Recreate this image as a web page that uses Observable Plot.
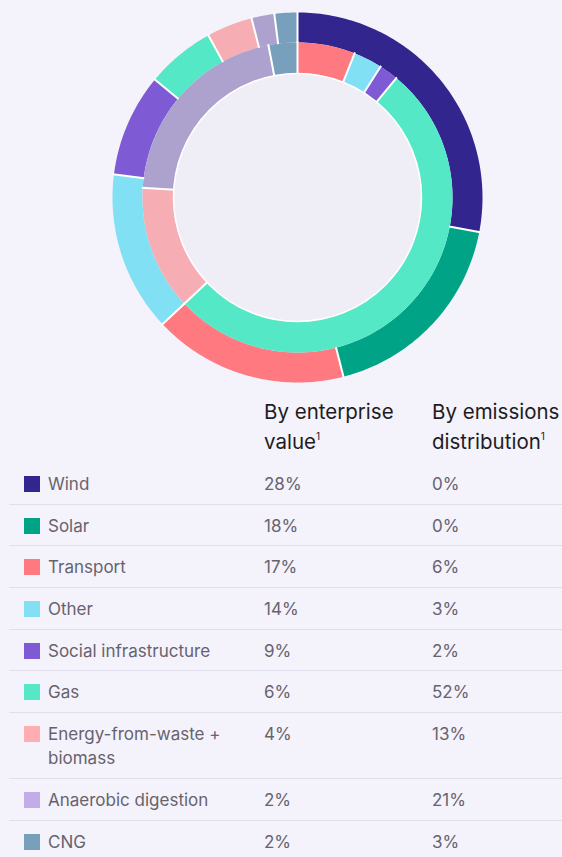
<!DOCTYPE html>
<html>
<head>
<meta charset="utf-8">
<script src="https://cdn.jsdelivr.net/npm/d3@7"></script>
<script src="https://cdn.jsdelivr.net/npm/@observablehq/plot@0.6"></script>
<style>
  html, body { margin: 0; padding: 0; background: #f4f2fb; }
  body { width: 562px; height: 857px; overflow: hidden; position: relative; font-family: "Inter", "Lato", sans-serif; }
  #chart svg { display: block; background: transparent; }
  #head { position: absolute; top: 397px; left: 0; width: 562px; height: 62px; font-size: 20.5px; line-height: 30px; color: #1d1c21; }
  #head div { position: absolute; top: 0; white-space: nowrap; }
  #head sup { font-size: 10px; vertical-align: 9px; line-height: 0; }
  table { position: absolute; top: 463px; left: 9px; width: 553px; border-collapse: collapse; font-size: 17px; line-height: 24px; color: #67636d; }
  td { padding: 9px 0 7.7px 0; vertical-align: top; border-bottom: 1px solid #e0ddec; }
  tr:last-child td { border-bottom: none; }
  td.lab { width: 255px; padding-left: 0; }
  td.lab .sw { display: inline-block; width: 16px; height: 16px; margin-left: 15px; margin-right: 8px; vertical-align: top; margin-top: 4px; }
  td.lab .tx { display: inline-block; width: 200px; vertical-align: top; }
  td.c2 { width: 168px; }
</style>
</head>
<body>
<div id="chart"></div>
<div id="head">
  <div style="left:264px">By enterprise<br>value<sup>1</sup></div>
  <div style="left:432px">By emissions<br>distribution<sup>1</sup></div>
</div>
<table id="tbl"></table>
<script>
const categories = ["Wind", "Solar", "Transport", "Other", "Social infrastructure", "Gas", "Energy-from-waste + biomass", "Anaerobic digestion", "CNG"];
const enterpriseValue = [28, 18, 17, 14, 9, 6, 4, 2, 2];
const emissionsDistribution = [0, 0, 6, 3, 2, 52, 13, 21, 3];
const ringColors = ["#33258e", "#00a386", "#ff7a80", "#81e0f4", "#7f5ad5", "#55e8c6", "#f6adb3", "#ada1cd", "#789fbb"];
const legendColors = ["#33258e", "#00a386", "#ff7a80", "#81e0f4", "#7f5ad5", "#55e8c6", "#ffadb1", "#c3ade9", "#789fbb"];

// ring geometry (pixel units of the plot)
const W = 562, H = 394, CX = 297, CY = 197;
const rings = [
  {key: "ev", values: enterpriseValue, r0: 155, r1: 185},
  {key: "em", values: emissionsDistribution, r0: 124, r1: 155}
];

const arcs = [];
const seps = [];
for (const ring of rings) {
  const total = d3.sum(ring.values);
  let cum = 0;
  ring.values.forEach((v, i) => {
    if (v <= 0) return;
    const a0 = 2 * Math.PI * cum / total;
    const a1 = 2 * Math.PI * (cum + v) / total;
    cum += v;
    const n = Math.max(2, Math.ceil((a1 - a0) / (Math.PI / 180)));
    const id = ring.key + i;
    for (let k = 0; k <= n; k++) {
      const a = a0 + (a1 - a0) * k / n;
      arcs.push({id, name: categories[i], x: ring.r1 * Math.sin(a), y: ring.r1 * Math.cos(a)});
    }
    for (let k = n; k >= 0; k--) {
      const a = a0 + (a1 - a0) * k / n;
      arcs.push({id, name: categories[i], x: ring.r0 * Math.sin(a), y: ring.r0 * Math.cos(a)});
    }
    seps.push({x1: (ring.r0 - 0.5) * Math.sin(a0), y1: (ring.r0 - 0.5) * Math.cos(a0), x2: (ring.r1 + 1) * Math.sin(a0), y2: (ring.r1 + 1) * Math.cos(a0)});
  });
}

const plot = Plot.plot({
  width: W,
  height: H,
  margin: 0,
  x: {domain: [-CX, W - CX], axis: null},
  y: {domain: [-(H - CY), CY], axis: null},
  color: {domain: categories, range: ringColors},
  style: {background: "transparent"},
  marks: [
    Plot.line(arcs, {x: "x", y: "y", z: "id", fill: "name", stroke: "none", curve: "linear-closed"}),
    Plot.link(seps, {x1: "x1", y1: "y1", x2: "x2", y2: "y2", stroke: "white", strokeWidth: 2}),
    Plot.dot([{x: 0, y: 0}], {x: "x", y: "y", r: 124, fill: "#efeef6", stroke: "white", strokeWidth: 1.5})
  ]
});
document.getElementById("chart").appendChild(plot);

const tbl = d3.select("#tbl");
categories.forEach((c, i) => {
  const tr = tbl.append("tr");
  const td = tr.append("td").attr("class", "lab");
  td.append("span").attr("class", "sw").style("background", legendColors[i]);
  td.append("span").attr("class", "tx").text(c);
  tr.append("td").attr("class", "c2").text(enterpriseValue[i] + "%");
  tr.append("td").text(emissionsDistribution[i] + "%");
});
</script>
</body>
</html>
